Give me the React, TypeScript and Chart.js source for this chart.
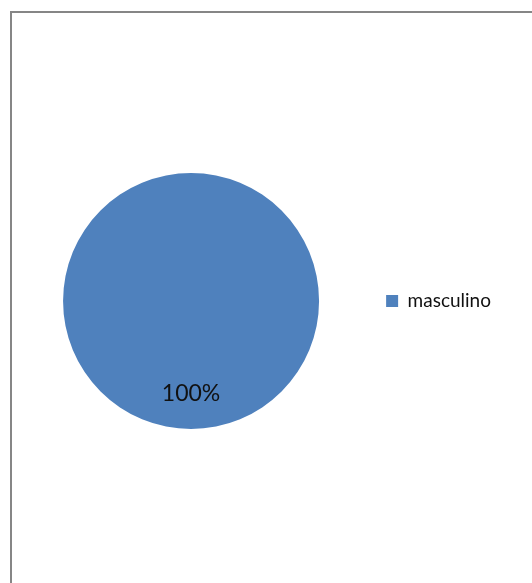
import React, { useEffect, useRef } from "react";
import { Chart, registerables } from "chart.js";

Chart.register(...registerables);

const categories: string[] = ["masculino"];
const values: number[] = [100];
const colors: string[] = ["#4F81BD"];

const frame = {
  id: "frame",
  beforeDraw(chart: any) {
    const ctx = chart.ctx;
    ctx.save();
    ctx.fillStyle = "#ffffff";
    ctx.fillRect(0, 0, chart.width, chart.height);
    ctx.strokeStyle = "#868686";
    ctx.lineWidth = 2;
    ctx.strokeRect(11, 12, chart.width + 20, chart.height + 20);
    ctx.restore();
  },
};

const pctLabels = {
  id: "pctLabels",
  afterDatasetsDraw(chart: any) {
    const meta = chart.getDatasetMeta(0);
    const data = chart.data.datasets[0].data as number[];
    const total = data.reduce((a, b) => a + b, 0);
    const ctx = chart.ctx;
    ctx.save();
    ctx.font = "23px Lato";
    ctx.fillStyle = "#111111";
    ctx.textAlign = "center";
    ctx.textBaseline = "middle";
    meta.data.forEach((arc: any, i: number) => {
      const p = arc.getProps(["x", "y", "outerRadius", "startAngle", "endAngle"], true);
      const pct = Math.round((data[i] / total) * 100) + "%";
      let x: number, y: number;
      if (data.length === 1) {
        x = p.x;
        y = p.y + p.outerRadius * 0.72;
      } else {
        const mid = (p.startAngle + p.endAngle) / 2;
        x = p.x + Math.cos(mid) * p.outerRadius * 0.7;
        y = p.y + Math.sin(mid) * p.outerRadius * 0.7;
      }
      ctx.fillText(pct, x, y);
    });
    ctx.restore();
  },
};

export default function App() {
  const ref = useRef<HTMLCanvasElement | null>(null);
  useEffect(() => {
    if (!ref.current) return;
    const chart = new Chart(ref.current, {
      type: "pie",
      data: {
        labels: categories,
        datasets: [
          {
            data: values,
            backgroundColor: colors,
            borderWidth: 0,
          },
        ],
      },
      options: {
        animation: false,
        responsive: false,
        maintainAspectRatio: false,
        layout: { padding: { left: 6, top: 173, bottom: 154, right: 31 } },
        plugins: {
          tooltip: { enabled: false },
          legend: {
            position: "right",
            labels: {
              boxWidth: 12,
              boxHeight: 12,
              padding: 10,
              color: "#111111",
              font: { family: "Lato", size: 19 },
            },
          },
        },
      },
      plugins: [frame, pctLabels],
    });
    return () => chart.destroy();
  }, []);
  return (
    <div style={{ position: "absolute", left: 0, top: 0, width: 532, height: 583 }}>
      <canvas ref={ref} width={532} height={583} />
    </div>
  );
}
